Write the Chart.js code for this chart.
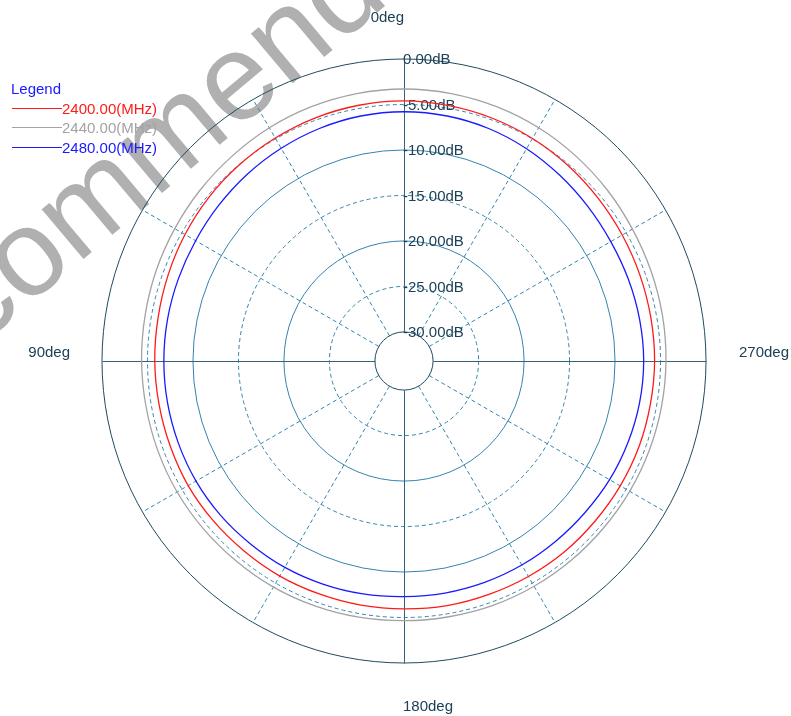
<!DOCTYPE html>
<html>
<head>
<meta charset="utf-8">
<script src="https://cdn.jsdelivr.net/npm/chart.js@4.4.1/dist/chart.umd.min.js"></script>
<style>
  body { margin: 0; background: #fff; }
  #wrap { position: relative; width: 791px; height: 716px; }
</style>
</head>
<body>
<div id="wrap"><canvas id="polarChart"></canvas></div>
<script>
// measured angles (deg), 0 at top, 90 on the left, 180 at bottom, 270 on the right
var angles = [0, 10, 20, 30, 40, 50, 60, 70, 80, 90, 100, 110, 120, 130, 140, 150, 160, 170,
              180, 190, 200, 210, 220, 230, 240, 250, 260, 270, 280, 290, 300, 310, 320, 330, 340, 350];

var freqLabels = ['2400.00(MHz)', '2440.00(MHz)', '2480.00(MHz)'];

// gain in dB
var gain2400 = [-4.6, -4.65, -4.75, -4.9, -5.05, -5.2, -5.4, -5.6, -5.75, -5.8, -5.85, -5.85,
                -5.8, -5.85, -5.9, -5.9, -5.95, -5.95, -5.95, -5.9, -5.9, -5.85, -5.8, -5.8,
                -5.75, -5.7, -5.7, -5.65, -5.65, -5.6, -5.5, -5.35, -5.15, -4.95, -4.8, -4.7];
var gain2440 = [-3.3, -3.35, -3.45, -3.6, -3.8, -3.95, -4.1, -4.2, -4.3, -4.35, -4.4, -4.4,
                -4.4, -4.45, -4.5, -4.5, -4.55, -4.6, -4.65, -4.65, -4.6, -4.6, -4.6, -4.6,
                -4.55, -4.5, -4.45, -4.4, -4.35, -4.3, -4.2, -4.0, -3.8, -3.6, -3.45, -3.35];
var gain2480 = [-5.8, -5.85, -6.0, -6.2, -6.4, -6.6, -6.75, -6.8, -6.8, -6.8, -6.8, -6.8,
                -6.8, -6.85, -6.95, -7.0, -7.1, -7.2, -7.3, -7.3, -7.3, -7.3, -7.3, -7.25,
                -7.1, -7.0, -6.9, -6.85, -6.9, -6.95, -6.95, -6.8, -6.55, -6.25, -6.0, -5.85];

var ringValues = [0, -5, -10, -15, -20, -25, -30];
var spokeAngles = [30, 60, 120, 150, 210, 240, 300, 330];
var axisAngles = [0, 90, 180, 270];
var axisLabels = ['0deg', '90deg', '180deg', '270deg'];
var watermark = 'Recommended';

var N = angles.length;
// radar goes clockwise, this plot goes counter clockwise
var reorder = function(arr) {
    return arr.map(function(v, i) { return arr[(N - i) % N]; });
};
var idxOf = function(a) {
    return (N - angles.indexOf(a)) % N;
};

var colDark = '#1f4a60';
var colTeal = '#3384ad';
var colAxis = '#35617a';
var colText = '#1c4156';
var font = '15px "Liberation Sans", Arial, sans-serif';

var gridPlugin = {
    id: 'polarGrid',
    beforeDraw: function(chart) {
        var ctx = chart.ctx;
        ctx.save();
        ctx.translate(-143, 449);
        ctx.rotate(-40 * Math.PI / 180);
        ctx.font = '123px "Liberation Sans", Arial, sans-serif';
        ctx.fillStyle = 'rgba(150,150,150,0.75)';
        ctx.textBaseline = 'alphabetic';
        ctx.fillText(watermark, 0, 0);
        ctx.restore();
    },
    beforeDatasetsDraw: function(chart) {
        var ctx = chart.ctx;
        var s = chart.scales.r;
        var cx = s.xCenter, cy = s.yCenter;
        var rIn = s.getDistanceFromCenterForValue(-30);
        var rOut = s.getDistanceFromCenterForValue(0);
        ctx.save();
        ctx.lineWidth = 1;

        // dashed spokes
        ctx.strokeStyle = colTeal;
        ctx.setLineDash([4, 3]);
        spokeAngles.forEach(function(a) {
            var p1 = s.getPointPosition(idxOf(a), rIn);
            var p2 = s.getPointPosition(idxOf(a), rOut);
            ctx.beginPath();
            ctx.moveTo(p1.x, p1.y);
            ctx.lineTo(p2.x, p2.y);
            ctx.stroke();
        });

        // rings
        ringValues.forEach(function(v, i) {
            var r = s.getDistanceFromCenterForValue(v);
            if (v === 0 || v === -30) {
                ctx.strokeStyle = colDark;
                ctx.setLineDash([]);
            } else if (i % 2 === 1) {
                ctx.strokeStyle = colTeal;
                ctx.setLineDash([4, 3]);
            } else {
                ctx.strokeStyle = colTeal;
                ctx.setLineDash([]);
            }
            ctx.beginPath();
            ctx.arc(cx, cy, r, 0, Math.PI * 2);
            ctx.stroke();
        });

        // main axes
        ctx.setLineDash([]);
        ctx.strokeStyle = colAxis;
        axisAngles.forEach(function(a) {
            var p1 = s.getPointPosition(idxOf(a), rIn);
            var p2 = s.getPointPosition(idxOf(a), rOut);
            ctx.beginPath();
            ctx.moveTo(Math.round(p1.x) + 0.5, Math.round(p1.y) + 0.5);
            ctx.lineTo(Math.round(p2.x) + 0.5, Math.round(p2.y) + 0.5);
            ctx.stroke();
        });

        // ring labels
        ctx.font = font;
        ctx.fillStyle = colText;
        ctx.textAlign = 'left';
        ctx.textBaseline = 'middle';
        ringValues.forEach(function(v) {
            var r = s.getDistanceFromCenterForValue(v);
            ctx.fillText(v.toFixed(2) + 'dB', cx - 1, cy - r + 1);
        });

        // angle labels
        ctx.textBaseline = 'alphabetic';
        var p = s.getPointPosition(idxOf(0), rOut + 35);
        ctx.textAlign = 'right';
        ctx.fillText(axisLabels[0], p.x, p.y - 2);
        p = s.getPointPosition(idxOf(90), rOut + 32);
        ctx.fillText(axisLabels[1], p.x, p.y - 4);
        p = s.getPointPosition(idxOf(180), rOut + 46);
        ctx.textAlign = 'left';
        ctx.fillText(axisLabels[2], p.x - 1, p.y + 2);
        p = s.getPointPosition(idxOf(270), rOut + 33);
        ctx.fillText(axisLabels[3], p.x, p.y - 4);
        ctx.restore();
    },
    afterDraw: function(chart) {
        // legend box in the top left corner
        var ctx = chart.ctx;
        ctx.save();
        ctx.font = font;
        ctx.textAlign = 'left';
        ctx.textBaseline = 'alphabetic';
        ctx.fillStyle = '#1a1aff';
        ctx.fillText('Legend', 11, 94);
        chart.data.datasets.forEach(function(ds, i) {
            var y = 114 + i * 19.4;
            ctx.strokeStyle = ds.borderColor;
            ctx.lineWidth = 1;
            ctx.beginPath();
            ctx.moveTo(12, Math.round(y - 6) + 0.5);
            ctx.lineTo(62, Math.round(y - 6) + 0.5);
            ctx.stroke();
            ctx.fillStyle = ds.borderColor;
            ctx.fillText(ds.label, 62, y);
        });
        ctx.restore();
    }
};

var ctxP = document.getElementById('polarChart').getContext('2d');
var myPolar = new Chart(ctxP, {
    type: 'radar',
    data: {
        labels: reorder(angles),
        datasets: [
            { label: freqLabels[0], data: reorder(gain2400), borderColor: '#ff1a1a' },
            { label: freqLabels[1], data: reorder(gain2440), borderColor: '#a3a3a3' },
            { label: freqLabels[2], data: reorder(gain2480), borderColor: '#1a1aff' }
        ]
    },
    options: {
        responsive: true,
        maintainAspectRatio: false,
        animation: false,
        layout: { padding: { left: 100, right: 83, top: 59, bottom: 53 } },
        elements: {
            line: { borderWidth: 1.3, fill: false, tension: 0.33 },
            point: { radius: 0, hoverRadius: 0 }
        },
        plugins: {
            legend: { display: false },
            tooltip: { enabled: false }
        },
        scales: {
            r: {
                min: -33.2,
                max: 0,
                ticks: { display: false },
                grid: { display: false },
                angleLines: { display: false },
                pointLabels: { display: false }
            }
        }
    },
    plugins: [gridPlugin]
});
</script>
</body>
</html>
